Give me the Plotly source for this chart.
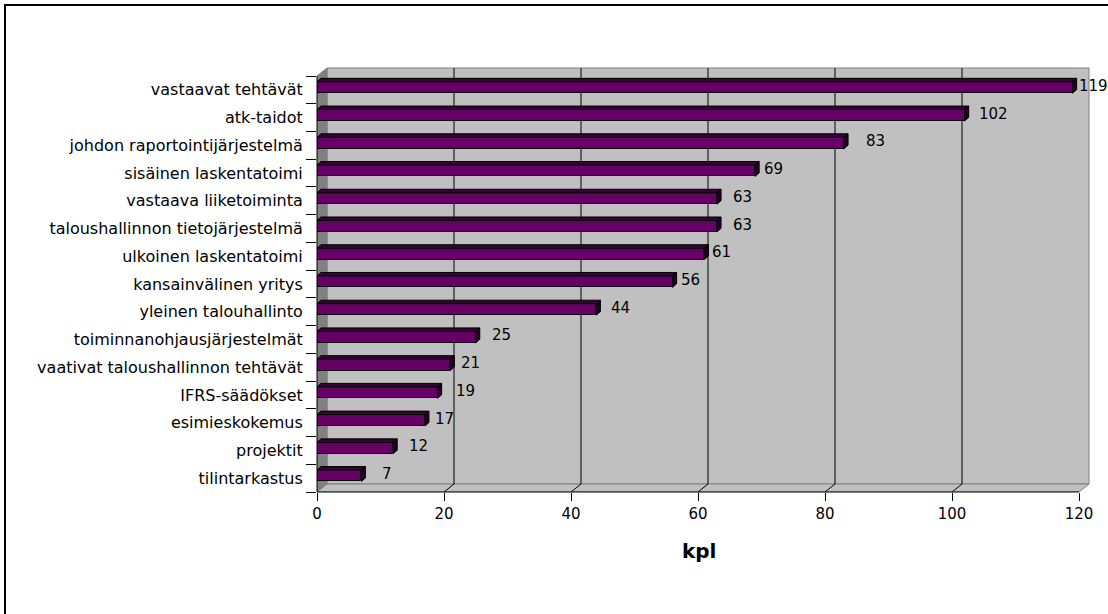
import plotly.graph_objects as go

# ---- data ----
categories = [
    "vastaavat tehtävät",
    "atk-taidot",
    "johdon raportointijärjestelmä",
    "sisäinen laskentatoimi",
    "vastaava liiketoiminta",
    "taloushallinnon tietojärjestelmä",
    "ulkoinen laskentatoimi",
    "kansainvälinen yritys",
    "yleinen talouhallinto",
    "toiminnanohjausjärjestelmät",
    "vaativat taloushallinnon tehtävät",
    "IFRS-säädökset",
    "esimieskokemus",
    "projektit",
    "tilintarkastus",
]
values = [119, 102, 83, 69, 63, 63, 61, 56, 44, 25, 21, 19, 17, 12, 7]
x_ticks = [0, 20, 40, 60, 80, 100, 120]
x_title = "kpl"

# horizontal nudge (px) of each value label from the bar end
label_nudge = [4, 12, 20, 7, 14, 14, 6, 6, 13, 14, 9, 16, 8, 14, 19]

# ---- geometry ----
W, H = 1108, 614
L, R, T, B = 317, 16, 66, 122
plot_w, plot_h = W - L - R, H - T - B
x_front = 120                      # last value on the front axis
px_per_unit = 762 / x_front
x_max = plot_w / px_per_unit
n = len(categories)
cat_px = 416 / n
y_low = n - 0.5
y_top = y_low - plot_h / cat_px

# depth of the walls and of the bars (data units)
wdx, wdy = 10 / px_per_unit, 8 / cat_px
bdx, bdy = 4 / px_per_unit, 3.5 / cat_px
bar_w, bar_off = 0.41, -0.29

FONT = "DejaVu Sans"
WALL = "#C0C0C0"
WALL_DARK = "#808080"
BAR = "#660066"
BAR_TOP = "#3a003a"
BAR_SIDE = "#220022"

idx = list(range(n))

fig = go.Figure()
fig.add_trace(go.Bar(
    y=idx, x=values, orientation="h",
    width=bar_w, offset=bar_off,
    marker=dict(color=BAR, line=dict(color="black", width=1)),
    hoverinfo="skip",
))


def poly(pts):
    return "M " + " L ".join(f"{x},{y}" for x, y in pts) + " Z"


shapes = []
# back wall
shapes.append(dict(type="path", xref="x", yref="y", layer="below",
                   path=poly([(wdx, y_low - wdy), (x_front + wdx, y_low - wdy),
                              (x_front + wdx, -0.5 - wdy), (wdx, -0.5 - wdy)]),
                   fillcolor=WALL, line=dict(color=WALL_DARK, width=1)))
# left wall
shapes.append(dict(type="path", xref="x", yref="y", layer="below",
                   path=poly([(0, y_low), (wdx, y_low - wdy),
                              (wdx, -0.5 - wdy), (0, -0.5)]),
                   fillcolor=WALL_DARK, line=dict(color=WALL_DARK, width=1)))
# floor
shapes.append(dict(type="path", xref="x", yref="y", layer="below",
                   path=poly([(0, y_low), (x_front, y_low),
                              (x_front + wdx, y_low - wdy), (wdx, y_low - wdy)]),
                   fillcolor=WALL, line=dict(color=WALL_DARK, width=1)))
# gridlines on the back wall and floor
for v in x_ticks[1:-1]:
    shapes.append(dict(type="line", xref="x", yref="y", layer="below",
                       x0=v + wdx, x1=v + wdx, y0=y_low - wdy, y1=-0.5 - wdy,
                       line=dict(color="black", width=1)))
    shapes.append(dict(type="line", xref="x", yref="y", layer="below",
                       x0=v, x1=v + wdx, y0=y_low, y1=y_low - wdy,
                       line=dict(color="black", width=1)))

# 3D top and side faces of each bar
for i, v in enumerate(values):
    yt, yb = i + bar_off, i + bar_off + bar_w
    shapes.append(dict(type="path", xref="x", yref="y", layer="above",
                       path=poly([(0, yt), (v, yt), (v + bdx, yt - bdy), (bdx, yt - bdy)]),
                       fillcolor=BAR_TOP, line=dict(color="black", width=1)))
    shapes.append(dict(type="path", xref="x", yref="y", layer="above",
                       path=poly([(v, yt), (v, yb), (v + bdx, yb - bdy), (v + bdx, yt - bdy)]),
                       fillcolor=BAR_SIDE, line=dict(color="black", width=1)))

# axis lines on the front plane
front_top = (y_low - (-0.5)) / (y_low - y_top)
shapes.append(dict(type="line", xref="paper", yref="paper",
                   x0=0, x1=x_front * px_per_unit / plot_w, y0=0, y1=0,
                   line=dict(color="black", width=1)))
shapes.append(dict(type="line", xref="paper", yref="paper",
                   x0=0, x1=0, y0=0, y1=front_top,
                   line=dict(color="black", width=1)))

# outer chart frame
shapes.append(dict(type="rect", xref="paper", yref="paper",
                   x0=(5 - L) / plot_w, x1=(W + 10 - L) / plot_w,
                   y0=(H - B - (H + 10)) / plot_h, y1=(H - B - 5) / plot_h,
                   line=dict(color="black", width=2), fillcolor="rgba(0,0,0,0)"))

annotations = []
for i, v in enumerate(values):
    annotations.append(dict(x=v, y=i, xref="x", yref="y", text=str(v),
                            xanchor="left", yanchor="middle",
                            xshift=label_nudge[i], yshift=4, showarrow=False,
                            font=dict(family=FONT, size=15, color="black")))
annotations.append(dict(x=(699 - L) / plot_w, y=(H - B - 551) / plot_h,
                        xref="paper", yref="paper", text=f"<b>{x_title}</b>",
                        xanchor="center", yanchor="middle", showarrow=False,
                        font=dict(family=FONT, size=20, color="black")))

fig.update_layout(
    width=W, height=H,
    margin=dict(l=L, r=R, t=T, b=B, pad=0),
    paper_bgcolor="white",
    plot_bgcolor="rgba(0,0,0,0)",
    showlegend=False,
    bargap=0,
    shapes=shapes,
    annotations=annotations,
    xaxis=dict(range=[0, x_max], tickmode="array", tickvals=x_ticks,
               ticks="outside", ticklen=8, tickwidth=1, tickcolor="black",
               showgrid=False, zeroline=False, showline=False, fixedrange=True,
               tickfont=dict(family=FONT, size=15, color="black")),
    yaxis=dict(range=[y_low, y_top], tickmode="array", tickvals=idx,
               ticktext=categories, ticks="outside", ticklen=10,
               tickcolor="rgba(0,0,0,0)",
               minor=dict(tickmode="array", tickvals=[i - 0.5 for i in range(n + 1)],
                          ticks="outside", ticklen=10, tickwidth=1,
                          tickcolor="black", showgrid=False),
               showgrid=False, zeroline=False, showline=False, fixedrange=True,
               tickfont=dict(family=FONT, size=16, color="black")),
)

fig.write_html("out.html")
